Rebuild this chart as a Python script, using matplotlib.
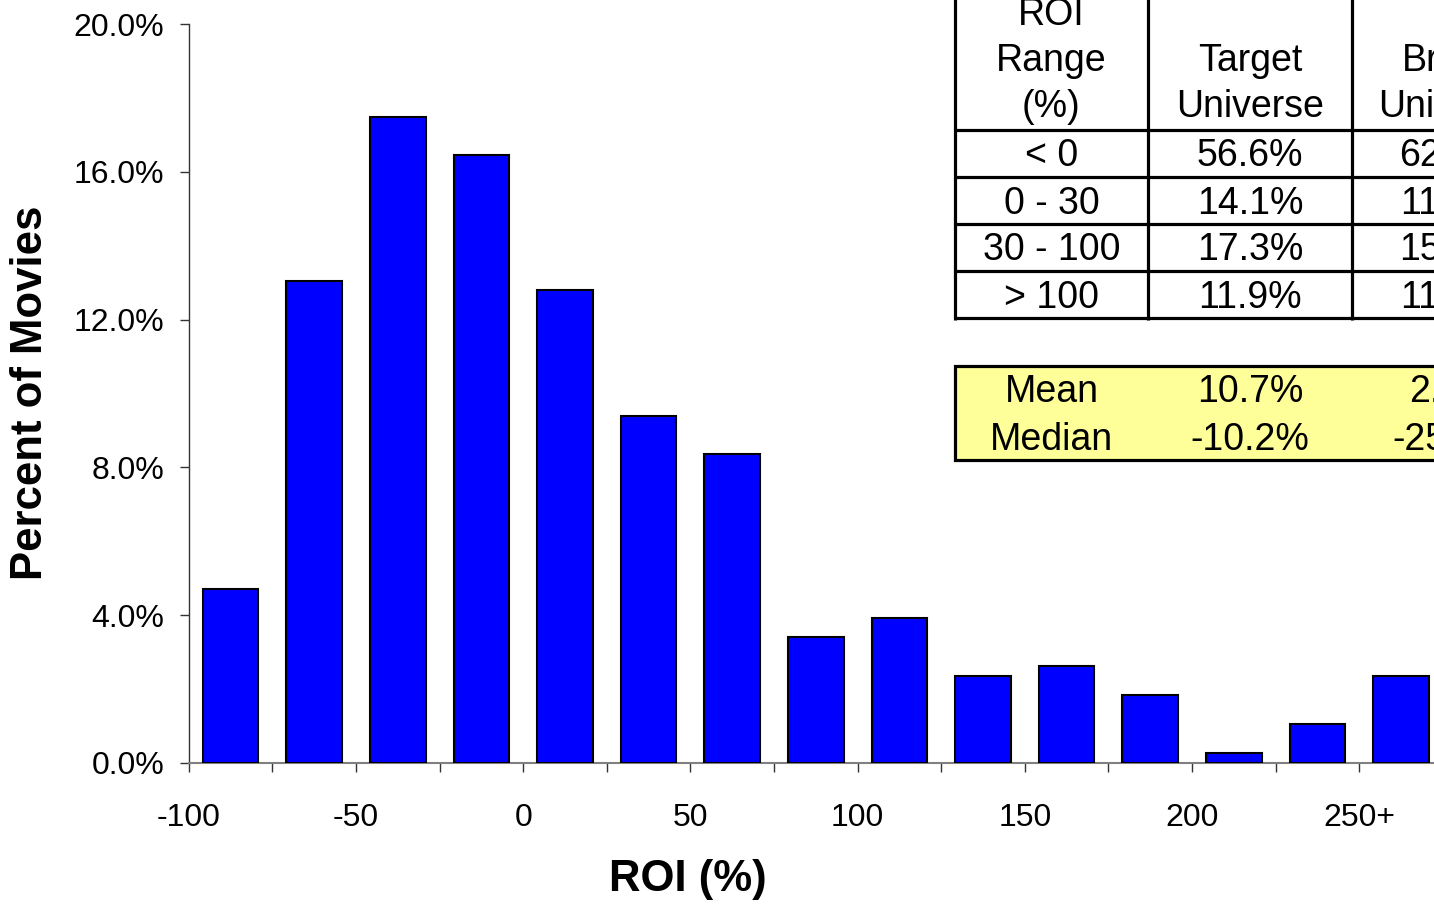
import numpy as np
import matplotlib
matplotlib.use("Agg")
import matplotlib.pyplot as plt
from matplotlib.ticker import PercentFormatter

plt.rcParams["font.family"] = ["Liberation Sans", "DejaVu Sans"]

# ─── DATA ──────────────────────────────────────────────────────────────────────
# share of movies per 25-point ROI bucket, last bucket is open-ended
bin_pct = [4.71, 13.04, 17.48, 16.45, 12.80, 9.39, 8.36, 3.41, 3.92,
           2.35, 2.63, 1.84, 0.27, 1.06, 2.35]
edge_labels = ["-100", "", "-50", "", "0", "", "50", "", "100", "", "150", "",
               "200", "", "250+", ""]
y_ticks = [0, 4, 8, 12, 16, 20]

header_cells = [["ROI", "Range", "(%)"], ["Target", "Universe"], ["Broad", "Universe"]]
range_labels = ["< 0", "0 - 30", "30 - 100", "> 100"]
target_pct = ["56.6%", "14.1%", "17.3%", "11.9%"]
broad_pct = ["62.3%", "11.2%", "15.1%", "11.4%"]
stat_labels = ["Mean", "Median"]
target_stats = ["10.7%", "-10.2%"]
broad_stats = ["2.5%", "-25.3%"]

# ─── FIGURE ────────────────────────────────────────────────────────────────────
W, H = 1434, 906
fig = plt.figure(figsize=(W / 100, H / 100), dpi=100, facecolor="white")

x0, ybot, ytop, cat_w = 188.8, 763, 24, 83.6
ax = fig.add_axes([x0 / W, (H - ybot) / H, 15 * cat_w / W, (ybot - ytop) / H])

pos = np.arange(len(bin_pct)) + 0.5
ax.bar(pos, bin_pct, width=0.667, color="#0000FF", edgecolor="black",
       linewidth=1.5, zorder=3)

ax.set_xlim(0, 15)
ax.set_ylim(0, 20)
ax.set_xticks(np.arange(16))
ax.set_xticklabels(edge_labels)
ax.set_yticks(y_ticks)
ax.yaxis.set_major_formatter(PercentFormatter(decimals=1))

for s in ["top", "right"]:
    ax.spines[s].set_visible(False)
ax.spines["left"].set_color("#333333")
ax.spines["bottom"].set_color("#808080")
ax.spines["left"].set_linewidth(1.0)
ax.spines["bottom"].set_linewidth(1.5)
ax.tick_params(axis="x", direction="out", length=6.5, width=1, color="#333333",
               labelsize=23, pad=22)
ax.tick_params(axis="y", direction="out", length=6.5, width=1, color="#333333",
               labelsize=23, pad=11)

fig.text(688 / W, 1 - 880 / H, "ROI (%)", fontsize=31.5, fontweight="bold",
         ha="center", va="center")
fig.text(31 / W, 1 - 393 / H, "Percent of Movies", fontsize=31.5,
         fontweight="bold", rotation=90, ha="center", va="center")

# ─── SUMMARY TABLE (pixel overlay) ─────────────────────────────────────────────
ov = fig.add_axes([0, 0, 1, 1], zorder=5)
ov.set_xlim(0, W)
ov.set_ylim(H, 0)
ov.axis("off")
ov.patch.set_alpha(0)

lw = 2.3
col_x = [955, 1148, 1352]
col_c = [1051.5, 1250, 1452]
row_y = [130, 177, 224, 271, 318]
dy = 3  # nudge text down so glyphs sit centred in the cells

for cx in col_x:
    ov.plot([cx, cx], [-5, 320], color="black", lw=lw, solid_capstyle="butt")
for ry in row_y:
    ov.plot([955, W + 10], [ry, ry], color="black", lw=lw, solid_capstyle="butt")

tfs = 27
for c, lines in enumerate(header_cells):
    start = 104 - 46 * (len(lines) - 1)
    for i, line in enumerate(lines):
        ov.text(col_c[c], start + 46 * i + dy, line, fontsize=tfs,
                ha="center", va="center")

for i, (r, t, b) in enumerate(zip(range_labels, target_pct, broad_pct)):
    cy = (row_y[i] + row_y[i + 1]) / 2 + dy
    ov.text(col_c[0], cy, r, fontsize=tfs, ha="center", va="center")
    ov.text(col_c[1], cy, t, fontsize=tfs, ha="center", va="center")
    ov.text(col_c[2], cy, b, fontsize=tfs, ha="center", va="center")

# mean / median box
ov.add_patch(plt.Rectangle((955, 366), W + 20 - 955, 94, facecolor="#FFFF99",
                           edgecolor="black", linewidth=lw))
for i, (s, t, b) in enumerate(zip(stat_labels, target_stats, broad_stats)):
    cy = 389 + 48 * i + dy
    ov.text(col_c[0], cy, s, fontsize=tfs, ha="center", va="center")
    ov.text(col_c[1], cy, t, fontsize=tfs, ha="center", va="center")
    ov.text(col_c[2], cy, b, fontsize=tfs, ha="center", va="center")

fig.savefig("out.png", dpi=100, facecolor="white")
